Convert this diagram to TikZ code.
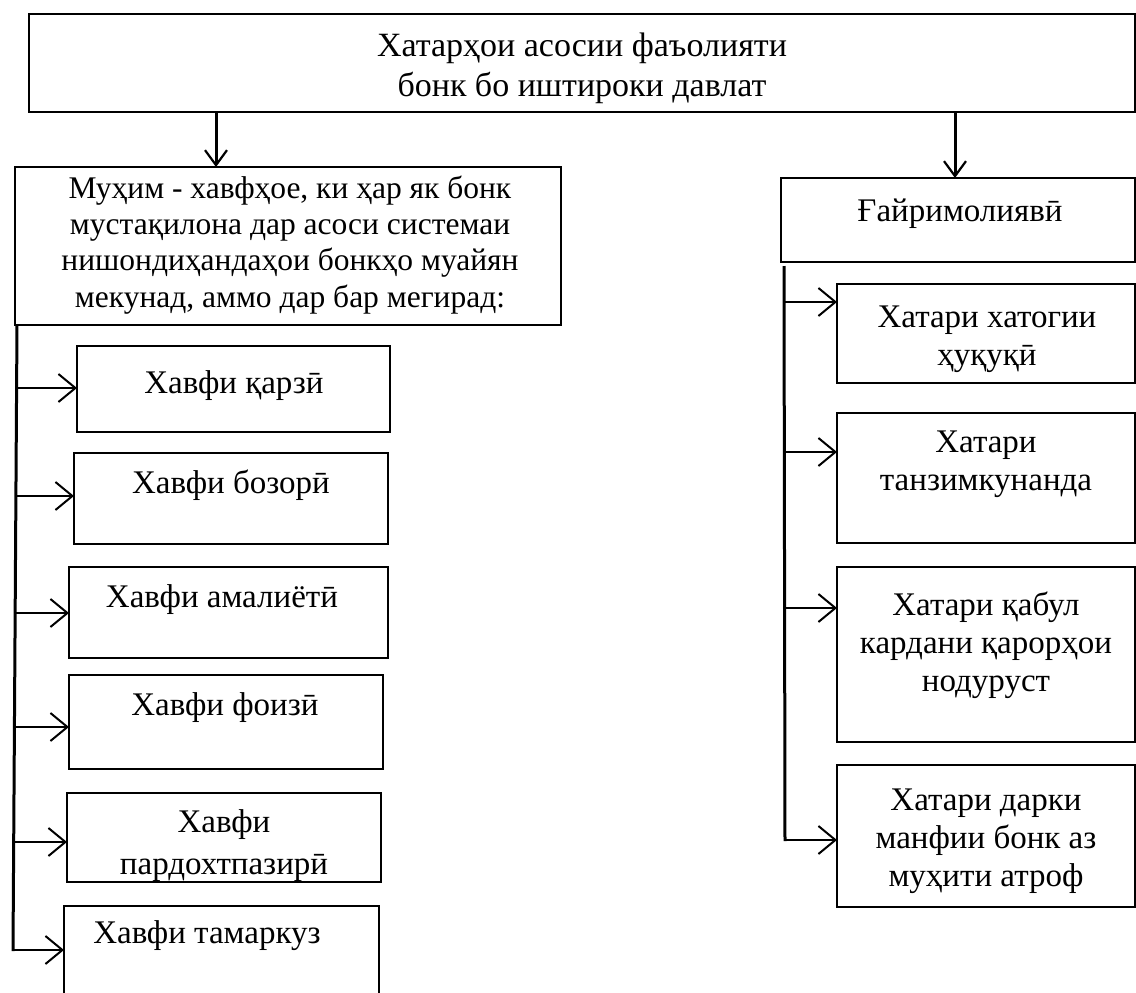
\documentclass[tikz,border=0pt]{standalone}
\usepackage{fontspec}
\setmainfont{Liberation Serif}
\usetikzlibrary{arrows.meta,calc}
\begin{document}
\begin{tikzpicture}[x=1pt,y=-1pt,
  box/.style={draw,line width=1.8pt,anchor=north west,inner sep=0pt,outer sep=0pt},
  txt/.style={align=center,anchor=base,font=\fontsize{33}{38}\selectfont,inner sep=0pt},
  trunk/.style={line width=3pt},
  arr/.style={line width=2pt,-{Straight Barb[length=17pt,width=28pt,line width=2pt]}},
  darr/.style={line width=3pt,-{Straight Barb[length=15pt,width=22pt,line width=2.2pt]}}]
\useasboundingbox (0,0) rectangle (1136,993);
\clip (0,0) rectangle (1136,993);
% top
\node[box,minimum width=1106pt,minimum height=98pt] (top) at (29,14) {};
\node[txt,font=\fontsize{34}{40}\selectfont] (toptxt) at (582,96) {Хатарҳои асосии фаъолияти\\бонк бо иштироки давлат};
% left branch
\node[box,minimum width=546pt,minimum height=158pt] (big) at (15,167) {};
\node[txt,font=\fontsize{31.5}{36.3}\selectfont] (bigtxt) at (290,307) {Муҳим - хавфҳое, ки ҳар як бонк\\мустақилона дар асоси системаи\\нишондиҳандаҳои бонкҳо муайян\\мекунад, аммо дар бар мегирад:};
\node[box,minimum width=313pt,minimum height=86pt] (b1) at (77,346) {};
\node[txt] (t1) at (234,393) {Хавфи қарзӣ};
\node[box,minimum width=314pt,minimum height=91pt] (b2) at (74,453) {};
\node[txt] (t2) at (231,493) {Хавфи бозорӣ};
\node[box,minimum width=319pt,minimum height=91pt] (b3) at (69,567) {};
\node[txt] (t3) at (222,607) {Хавфи амалиётӣ};
\node[box,minimum width=314pt,minimum height=94pt] (b4) at (69,675) {};
\node[txt] (t4) at (225,715) {Хавфи фоизӣ};
\node[box,minimum width=314pt,minimum height=89pt] (b5) at (67,793) {};
\node[txt,font=\fontsize{33}{42}\selectfont] (t5) at (224,874) {Хавфи\\пардохтпазирӣ};
\node[box,minimum width=315pt,minimum height=100pt] (b6) at (64,906) {};
\node[txt] (t6) at (207,943) {Хавфи тамаркуз};
% right branch
\node[box,minimum width=354pt,minimum height=84pt] (gay) at (781,178) {};
\node[txt] (tg) at (960,221) {Ғайримолиявӣ};
\node[box,minimum width=298pt,minimum height=99pt] (r1) at (837,284) {};
\node[txt] (tr1) at (987,365.5) {Хатари хатогии\\ҳуқуқӣ};
\node[box,minimum width=298pt,minimum height=130pt] (r2) at (837,413) {};
\node[txt] (tr2) at (986,490.5) {Хатари\\танзимкунанда};
\node[box,minimum width=298pt,minimum height=175pt] (r3) at (837,567) {};
\node[txt] (tr3) at (986,691) {Хатари қабул\\кардани қарорҳои\\нодуруст};
\node[box,minimum width=298pt,minimum height=142pt] (r4) at (837,765) {};
\node[txt] (tr4) at (986,886.5) {Хатари дарки\\манфии бонк аз\\муҳити атроф};
% down arrows
\coordinate (dl) at (216,0);
\coordinate (dr) at (955,0);
\draw[darr] (top.south -| dl) -- (big.north -| dl);
\draw[darr] (top.south -| dr) -- (gay.north -| dr);
% left trunk
\coordinate (tlA) at (17,325);
\coordinate (tlB) at (13,951);
\draw[trunk] (tlA) -- (tlB);
\coordinate (a1) at (17,388);
\coordinate (a2) at (16,496);
\coordinate (a3) at (15,613);
\coordinate (a4) at (15,727);
\coordinate (a5) at (14,842);
\coordinate (a6) at (12,950);
\draw[arr] (a1) -- (a1 -| b1.west);
\draw[arr] (a2) -- (a2 -| b2.west);
\draw[arr] (a3) -- (a3 -| b3.west);
\draw[arr] (a4) -- (a4 -| b4.west);
\draw[arr] (a5) -- (a5 -| b5.west);
\draw[arr] (a6) -- (a6 -| b6.west);
% right trunk
\coordinate (trA) at (784,266);
\coordinate (trB) at (785,841);
\draw[trunk] (trA) -- (trB);
\coordinate (c1) at (784,302);
\coordinate (c2) at (784,452);
\coordinate (c3) at (785,608);
\coordinate (c4) at (785,840);
\draw[arr] (c1) -- (c1 -| r1.west);
\draw[arr] (c2) -- (c2 -| r2.west);
\draw[arr] (c3) -- (c3 -| r3.west);
\draw[arr] (c4) -- (c4 -| r4.west);
\end{tikzpicture}
\end{document}
